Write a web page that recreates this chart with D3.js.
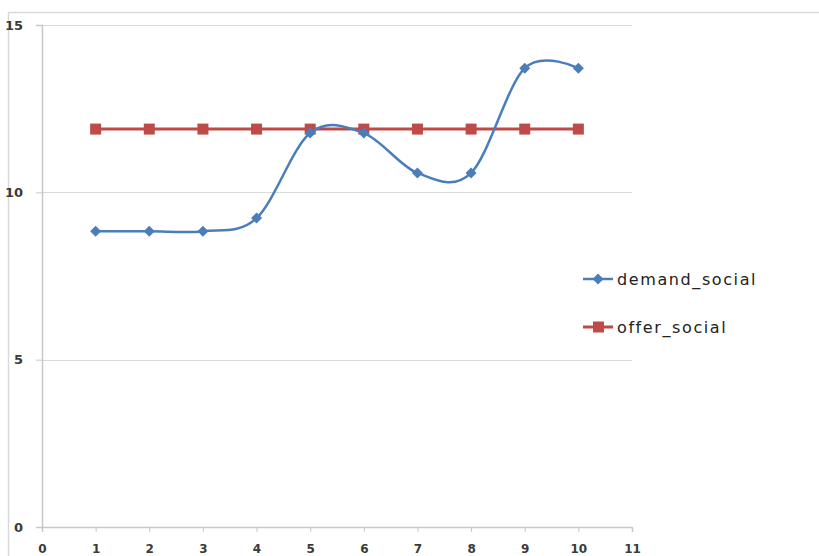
<!DOCTYPE html>
<html>
<head>
<meta charset="utf-8">
<script src="https://cdn.jsdelivr.net/npm/d3@7"></script>
<style>
  html, body { margin: 0; padding: 0; background: #fff; }
  svg { display: block; font-family: "DejaVu Sans", "Liberation Sans", sans-serif; }
</style>
</head>
<body>
<svg id="chart" width="819" height="556"></svg>
<script>
// Data
const periods = [1, 2, 3, 4, 5, 6, 7, 8, 9, 10];
const demandSocial = [8.84, 8.84, 8.84, 9.23, 11.77, 11.77, 10.58, 10.58, 13.71, 13.71];
const offerSocial = [11.89, 11.89, 11.89, 11.89, 11.89, 11.89, 11.89, 11.89, 11.89, 11.89];
const xTicks = [0, 1, 2, 3, 4, 5, 6, 7, 8, 9, 10, 11];
const yTicks = [0, 5, 10, 15];
const seriesNames = ["demand_social", "offer_social"];

const svg = d3.select("#chart");

// Outer frame
svg.append("rect")
  .attr("x", 8.5).attr("y", 12.5)
  .attr("width", 830).attr("height", 560)
  .attr("fill", "none").attr("stroke", "#d9d9d9").attr("stroke-width", 1.5);

const x = d3.scaleLinear().domain([0, 11]).range([42, 632]);
const y = d3.scaleLinear().domain([0, 15]).range([527, 25]);

// Horizontal gridlines
svg.append("g").selectAll("line")
  .data(yTicks.filter(d => d > 0))
  .join("line")
  .attr("x1", x(0)).attr("x2", x(11))
  .attr("y1", d => Math.round(y(d)) + 0.5).attr("y2", d => Math.round(y(d)) + 0.5)
  .attr("stroke", "#d9d9d9").attr("stroke-width", 1.2);

// Y axis
const yAxis = svg.append("g")
  .attr("transform", `translate(${x(0)},0)`)
  .call(d3.axisLeft(y).tickValues(yTicks).tickSize(6).tickPadding(13).tickFormat(d3.format("d")));
yAxis.attr("font-size", null).attr("font-family", null);
yAxis.select(".domain").attr("stroke", "#c8c8c8").attr("stroke-width", 1.5);
yAxis.selectAll(".tick line").attr("stroke", "#c8c8c8");
yAxis.selectAll("text").attr("fill", "#3a3a3a")
  .style("font-size", "13px").style("font-weight", "bold");

// X axis
const xAxis = svg.append("g")
  .attr("transform", `translate(0,${y(0)})`)
  .call(d3.axisBottom(x).tickValues(xTicks).tickSize(5).tickPadding(12).tickFormat(d3.format("d")));
xAxis.attr("font-size", null).attr("font-family", null);
xAxis.select(".domain").attr("stroke", "#c8c8c8").attr("stroke-width", 1.5);
xAxis.selectAll(".tick line").attr("stroke", "#c8c8c8");
xAxis.selectAll("text").attr("fill", "#3a3a3a")
  .style("font-size", "12px").style("font-weight", "bold");

const blue = "#4a7ebb";
const red = "#be4b48";

// Offer series (straight line, square markers)
const straight = d3.line().x((d, i) => x(periods[i])).y(d => y(d));
svg.append("path")
  .attr("d", straight(offerSocial))
  .attr("fill", "none").attr("stroke", red).attr("stroke-width", 3);
svg.append("g").selectAll("rect")
  .data(offerSocial)
  .join("rect")
  .attr("x", (d, i) => x(periods[i]) - 5.5)
  .attr("y", d => y(d) - 5.5)
  .attr("width", 11).attr("height", 11)
  .attr("fill", red);

// Demand series (smoothed line, diamond markers)
const smooth = d3.line().x((d, i) => x(periods[i])).y(d => y(d)).curve(d3.curveCardinal.tension(0));
svg.append("path")
  .attr("d", smooth(demandSocial))
  .attr("fill", "none").attr("stroke", blue).attr("stroke-width", 2.5);
const diamond = "M0,-5.5L5.5,0L0,5.5L-5.5,0Z";
svg.append("g").selectAll("path")
  .data(demandSocial)
  .join("path")
  .attr("transform", (d, i) => `translate(${x(periods[i])},${y(d)})`)
  .attr("d", diamond)
  .attr("fill", blue);

// Legend
const legend = svg.append("g");
const items = [
  { name: seriesNames[0], color: blue, shape: "diamond", cy: 279 },
  { name: seriesNames[1], color: red, shape: "square", cy: 327 }
];
items.forEach(it => {
  legend.append("line")
    .attr("x1", 583).attr("x2", 613).attr("y1", it.cy).attr("y2", it.cy)
    .attr("stroke", it.color).attr("stroke-width", it.shape === "square" ? 3 : 2.5);
  if (it.shape === "diamond") {
    legend.append("path")
      .attr("transform", `translate(598,${it.cy})`)
      .attr("d", diamond).attr("fill", it.color);
  } else {
    legend.append("rect")
      .attr("x", 593).attr("y", it.cy - 5.5).attr("width", 11).attr("height", 11)
      .attr("fill", it.color);
  }
  legend.append("text")
    .attr("x", 617).attr("y", it.cy).attr("dy", "0.35em")
    .attr("font-size", 16).attr("letter-spacing", 1.6).attr("fill", "#222")
    .text(it.name);
});
</script>
</body>
</html>
